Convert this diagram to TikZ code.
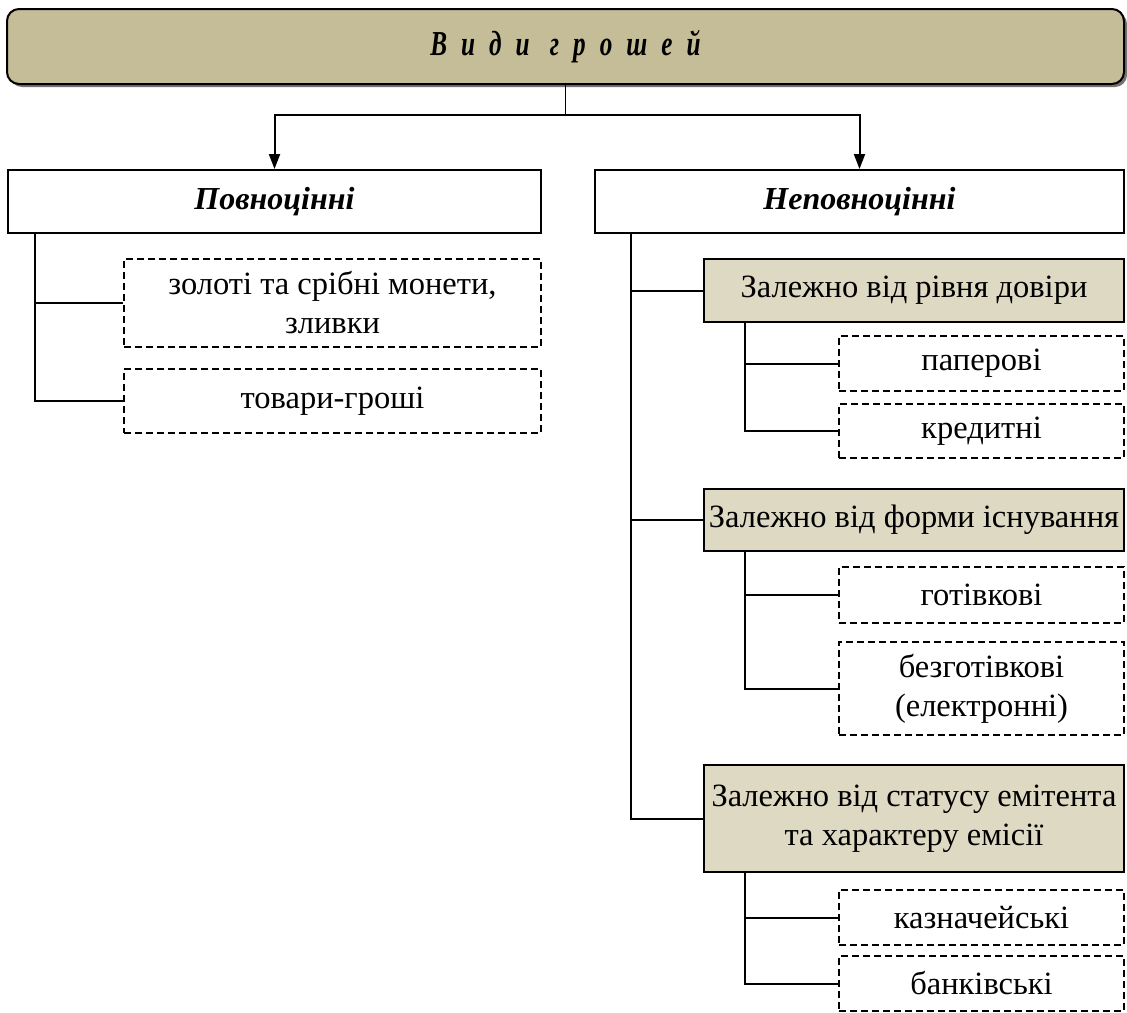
\documentclass[tikz,border=0pt]{standalone}
\usepackage{fontspec}
\setmainfont{Liberation Serif}
\newfontfamily\titlefont[FakeStretch=0.72,LetterSpace=40]{Liberation Serif}
\usepackage[dvipsnames]{xcolor}
\usetikzlibrary{arrows.meta,shadows}
\definecolor{titlefill}{HTML}{C4BD97}
\definecolor{groupfill}{HTML}{DDD9C3}

\begin{document}
\begin{tikzpicture}[x=1pt,y=-1pt,line width=2pt,>={Triangle[length=15pt,width=11pt]},base node/.style={draw,inner sep=2pt,align=center,font=\fontsize{32.5}{39}\selectfont},title node/.style={base node,rounded corners=12pt,fill=titlefill,minimum width=1117pt,minimum height=75pt,font=\titlefont\fontsize{35}{40}\selectfont\bfseries\itshape,drop shadow={shadow xshift=3pt,shadow yshift=-3pt,fill=black!55,opacity=1}},kind node/.style={base node,fill=white,minimum height=63pt,font=\fontsize{32}{38}\selectfont\bfseries\itshape},group node/.style={base node,fill=groupfill,minimum width=420pt},leaf node/.style={base node,dash pattern=on 7pt off 4pt,minimum width=285pt}]

                    \useasboundingbox (0,0) rectangle (1127,1012);

                    \node[title node] (1) at (565.5,46.5) {Види грошей};
                    \node[kind node, minimum width=533pt] (2) at (274.5,201.5) {Повноцінні};
                    \node[kind node, minimum width=529pt] (3) at (859.5,201.5) {Неповноцінні};

                    \node[leaf node, minimum width=417pt, minimum height=88pt] (4) at (332.5,303) {золоті та срібні монети,\\зливки};
                    \node[leaf node, minimum width=417pt, minimum height=64pt] (5) at (332.5,401) {товари-гроші};

                    \node[group node, minimum height=63pt] (6) at (914,290.5) {Залежно від рівня довіри};
                    \node[leaf node, minimum height=55pt] (7) at (981.5,363.5) {паперові};
                    \node[leaf node, minimum height=54pt] (8) at (981.5,431) {кредитні};

                    \node[group node, minimum height=62pt] (9) at (914,520) {Залежно від форми існування};
                    \node[leaf node, minimum height=56pt] (10) at (981.5,595) {готівкові};
                    \node[leaf node, minimum height=93pt] (11) at (981.5,688.5) {безготівкові\\(електронні)};

                    \node[group node, minimum height=107pt] (12) at (914,818.5) {Залежно від статусу емітента\\та характеру емісії};
                    \node[leaf node, minimum height=55pt] (13) at (981.5,917.5) {казначейські};
                    \node[leaf node, minimum height=55pt] (14) at (981.5,983.5) {банківські};

                    \coordinate (s) at ([yshift=-30pt]1.south);
                    \draw[line width=1.2pt] (1.south) -- (s);
                    \draw[->] (s) -| (2.north);
                    \draw[->] (s) -| (3.north);

                    \coordinate (t1) at ([xshift=28pt]2.south west);
                    \draw (t1) |- (4.west);
                    \draw (t1) |- (5.west);

                    \coordinate (t2) at ([xshift=37pt]3.south west);
                    \draw (t2) |- (6.west);
                    \draw (t2) |- (9.west);
                    \draw (t2) |- (12.west);

                    \coordinate (t3) at ([xshift=42pt]6.south west);
                    \draw (t3) |- (7.west);
                    \draw (t3) |- (8.west);

                    \coordinate (t4) at ([xshift=42pt]9.south west);
                    \draw (t4) |- (10.west);
                    \draw (t4) |- (11.west);

                    \coordinate (t5) at ([xshift=42pt]12.south west);
                    \draw (t5) |- (13.west);
                    \draw (t5) |- (14.west);

                    ;
                \end{tikzpicture}
\end{document}
